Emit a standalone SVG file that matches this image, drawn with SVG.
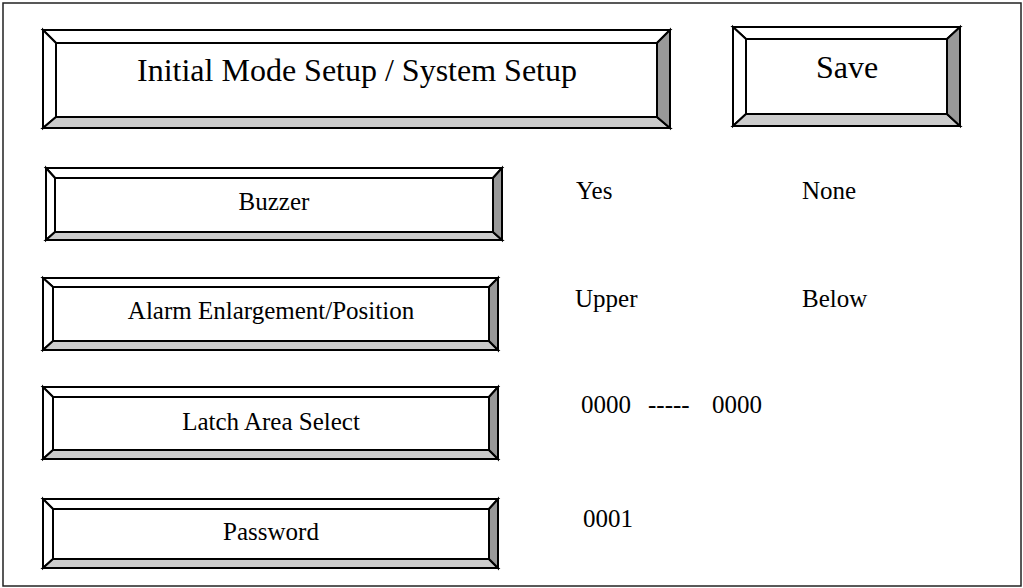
<svg xmlns="http://www.w3.org/2000/svg" width="1023" height="588" viewBox="0 0 1023 588">
<style>
.lt{fill:#ffffff;stroke:#000;stroke-width:2;stroke-linejoin:miter}
.bt{fill:#cccccc;stroke:#000;stroke-width:2}
.rt{fill:#999999;stroke:#000;stroke-width:2}
.in{fill:#ffffff;stroke:#000;stroke-width:2}
.t{font-family:"Liberation Serif","Times New Roman",serif;fill:#000}
.big{font-size:32px;text-anchor:middle}
.lab{font-size:25px;text-anchor:middle}
.val{font-size:25px}
</style>
<rect x="3" y="3" width="1018" height="583" fill="#fff" stroke="#222" stroke-width="1.5"/>
<g id="title">
<polygon class="lt" points="43,30 670,30 657,43 56,43"/>
<polygon class="lt" points="43,30 56,43 56,117 43,128"/>
<polygon class="bt" points="43,128 56,117 657,117 670,128"/>
<polygon class="rt" points="670,30 670,128 657,117 657,43"/>
<rect class="in" x="56" y="43" width="601" height="74"/>
<text class="t big" x="357" y="81">Initial Mode Setup / System Setup</text>
</g>
<g id="save">
<polygon class="lt" points="733,27 960,27 947,39 746,39"/>
<polygon class="lt" points="733,27 746,39 746,114 733,126"/>
<polygon class="bt" points="733,126 746,114 947,114 960,126"/>
<polygon class="rt" points="960,27 960,126 947,114 947,39"/>
<rect class="in" x="746" y="39" width="201" height="75"/>
<text class="t big" x="847" y="78">Save</text>
</g>
<g id="buzzer">
<polygon class="lt" points="46,168 502,168 493,178 55,178"/>
<polygon class="lt" points="46,168 55,178 55,232 46,240"/>
<polygon class="bt" points="46,240 55,232 493,232 502,240"/>
<polygon class="rt" points="502,168 502,240 493,232 493,178"/>
<rect class="in" x="55" y="178" width="438" height="54"/>
<text class="t lab" x="274" y="210">Buzzer</text>
</g>
<g id="alarm">
<polygon class="lt" points="43,278 498,278 489,287 53,287"/>
<polygon class="lt" points="43,278 53,287 53,341 43,350"/>
<polygon class="bt" points="43,350 53,341 489,341 498,350"/>
<polygon class="rt" points="498,278 498,350 489,341 489,287"/>
<rect class="in" x="53" y="287" width="436" height="54"/>
<text class="t lab" x="271" y="319">Alarm Enlargement/Position</text>
</g>
<g id="latch">
<polygon class="lt" points="43,387 498,387 489,397 53,397"/>
<polygon class="lt" points="43,387 53,397 53,450 43,459"/>
<polygon class="bt" points="43,459 53,450 489,450 498,459"/>
<polygon class="rt" points="498,387 498,459 489,450 489,397"/>
<rect class="in" x="53" y="397" width="436" height="53"/>
<text class="t lab" x="271" y="430">Latch Area Select</text>
</g>
<g id="password">
<polygon class="lt" points="43,499 498,499 489,509 53,509"/>
<polygon class="lt" points="43,499 53,509 53,559 43,568"/>
<polygon class="bt" points="43,568 53,559 489,559 498,568"/>
<polygon class="rt" points="498,499 498,568 489,559 489,509"/>
<rect class="in" x="53" y="509" width="436" height="50"/>
<text class="t lab" x="271" y="540">Password</text>
</g>
<g id="values">
<text class="t val" x="576" y="199">Yes</text>
<text class="t val" x="802" y="199">None</text>
<text class="t val" x="575" y="307">Upper</text>
<text class="t val" x="802" y="307">Below</text>
<text class="t val" y="413"><tspan x="581">0000</tspan><tspan x="648">-----</tspan><tspan x="712">0000</tspan></text>
<text class="t val" x="583" y="527">0001</text>
</g>
<g id="connectors"></g>
</svg>
